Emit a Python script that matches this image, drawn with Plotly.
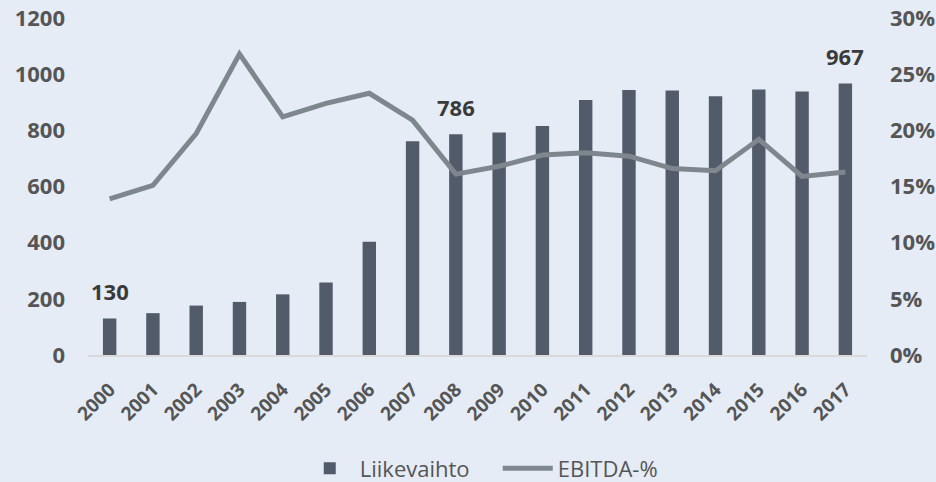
import plotly.graph_objects as go

years = [str(y) for y in range(2000, 2018)]
liikevaihto = [130, 149, 176, 189, 216, 258, 403, 761, 786, 792, 815, 908, 944, 942, 921, 945, 938, 967]
ebitda_pct = [0.139, 0.151, 0.197, 0.268, 0.212, 0.224, 0.233, 0.209, 0.161, 0.168, 0.178, 0.180,
              0.177, 0.166, 0.164, 0.192, 0.159, 0.163]
labelled_years = ["2000", "2008", "2017"]

BG = "#E5ECF6"
BAR = "#525B69"
LINE = "#7E878E"
TICK = "#555555"
FONT = "Open Sans"

fig = go.Figure()
fig.add_trace(go.Bar(
    x=years, y=liikevaihto, name="Liikevaihto",
    marker=dict(color=BAR, line=dict(width=0)),
    width=0.31,
))
fig.add_trace(go.Scatter(
    x=years, y=ebitda_pct, name="EBITDA-%", yaxis="y2",
    mode="lines", line=dict(color=LINE, width=5),
))

for yr in labelled_years:
    i = years.index(yr)
    fig.add_annotation(
        x=i, y=liikevaihto[i], text=f"<b>{liikevaihto[i]}</b>",
        showarrow=False, yshift=27, yanchor="middle",
        font=dict(family=FONT, size=22, color="#3a3a3a"),
    )

fig.update_layout(
    width=936, height=482,
    margin=dict(l=88, r=69, t=18, b=127, autoexpand=False),
    paper_bgcolor=BG, plot_bgcolor=BG,
    font=dict(family=FONT, color=TICK),
    showlegend=True,
    legend=dict(
        orientation="h", x=0.526, xanchor="center",
        yref="container", y=0.028, yanchor="middle",
        font=dict(family=FONT, size=22, color="#555555"),
        bgcolor="rgba(0,0,0,0)", tracegroupgap=0,
        entrywidth=133, itemwidth=50,
    ),
    xaxis=dict(
        type="category", tickangle=-45, range=[-0.5, len(years) - 0.5],
        tickfont=dict(family=FONT, size=19, color=TICK, weight="bold"),
        showgrid=False, zeroline=False, automargin=False,
        showline=True, linecolor="#D9D9D9", linewidth=2,
        ticks="", ticklabelstandoff=14,
    ),
    yaxis=dict(
        range=[0, 1200], tickvals=[0, 200, 400, 600, 800, 1000, 1200],
        tickfont=dict(family=FONT, size=22, color=TICK, weight="bold"),
        showgrid=False, zeroline=False, ticks="", ticklabelstandoff=22,
        automargin=False,
    ),
    yaxis2=dict(
        range=[0, 0.3], overlaying="y", side="right",
        tickvals=[0, 0.05, 0.1, 0.15, 0.2, 0.25, 0.3], tickformat=".0%",
        tickfont=dict(family=FONT, size=22, color=TICK, weight="bold"),
        showgrid=False, zeroline=False, ticks="", ticklabelstandoff=22,
        automargin=False,
    ),
)

fig.write_html("out.html")
